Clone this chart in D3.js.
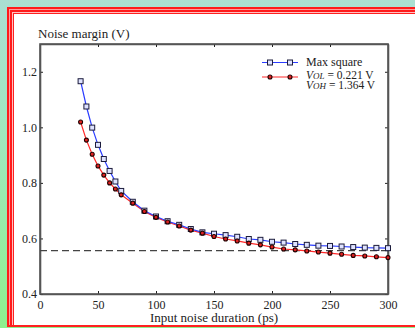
<!DOCTYPE html>
<html>
<head>
<meta charset="utf-8">
<script src="https://cdn.jsdelivr.net/npm/d3@7"></script>
<style>
  html, body { margin: 0; padding: 0; }
  body {
    width: 415px; height: 328px; overflow: hidden; position: relative;
    background: linear-gradient(to bottom, #aadfd2 0%, #9ee8bc 45%, #8ef08e 100%);
  }
  #frame {
    position: absolute; left: 7px; top: 7px; width: 520px; height: 318px;
    background: #fff;
    border-bottom: 2px solid #ff2020;
    box-shadow: inset 2px 2px 0 #ff1a1a, inset 3px 3px 0 #ff9c9c,
                inset 5px 5px 0 #ff1a1a, inset 6px 6px 0 #ffc0c0,
                inset 7px 7px 0 #ff2020;
  }
  svg { position: absolute; left: 0; top: 0; }
  text { font-family: "Liberation Serif", "Times New Roman", serif; fill: #222; }
</style>
</head>
<body>
<div id="frame"></div>
<svg id="chart" width="415" height="328"></svg>
<script>
// Input noise duration (ps)
const durations = [35, 40, 45, 50, 55, 60, 65, 70, 80, 90, 100, 110, 120, 130, 140, 150,
                   160, 170, 180, 190, 200, 210, 220, 230, 240, 250, 260, 270, 280, 290, 300];
// Noise margin (V) with the maximal square pulse
const maxSquare = [1.166, 1.075, 0.999, 0.937, 0.886, 0.843, 0.805, 0.771, 0.732, 0.700,
                   0.679, 0.662, 0.649, 0.634, 0.622, 0.617, 0.612, 0.606, 0.598, 0.595,
                   0.588, 0.585, 0.580, 0.577, 0.574, 0.573, 0.571, 0.569, 0.567, 0.566, 0.565];
// Noise margin (V) for VOL = 0.221 V / VOH = 1.364 V
const volVoh = [1.019, 0.954, 0.903, 0.861, 0.828, 0.800, 0.778, 0.757, 0.727, 0.697,
                0.676, 0.659, 0.645, 0.630, 0.619, 0.607, 0.598, 0.591, 0.583, 0.577,
                0.569, 0.562, 0.559, 0.555, 0.551, 0.547, 0.543, 0.539, 0.537, 0.534, 0.531];
// Static reference level (V)
const staticLevel = 0.556;

const xTicks = [0, 50, 100, 150, 200, 250, 300];
const yTicks = [0.4, 0.6, 0.8, 1.0, 1.2];

const plot = { left: 40, right: 388, top: 44, bottom: 294 };

const svg = d3.select("#chart");
const x = d3.scaleLinear().domain([0, 300]).range([plot.left, plot.right]);
const y = d3.scaleLinear().domain([0.4, 1.3]).range([plot.bottom, plot.top]);

const axisColor = "#555";

// Axes with inward ticks on all four sides
const gB = svg.append("g").attr("transform", `translate(0,${plot.bottom})`)
  .call(d3.axisBottom(x).tickValues(xTicks).tickSize(-3).tickSizeOuter(0).tickPadding(6).tickFormat(d3.format("d")));
const gT = svg.append("g").attr("transform", `translate(0,${plot.top})`)
  .call(d3.axisTop(x).tickValues(xTicks).tickSize(-3).tickSizeOuter(0).tickFormat(""));
const gL = svg.append("g").attr("transform", `translate(${plot.left},0)`)
  .call(d3.axisLeft(y).tickValues(yTicks).tickSize(-3).tickSizeOuter(0).tickPadding(3).tickFormat(d3.format(".1f")));
const gR = svg.append("g").attr("transform", `translate(${plot.right},0)`)
  .call(d3.axisRight(y).tickValues(yTicks).tickSize(-3).tickSizeOuter(0).tickFormat(""));

[gB, gT, gL, gR].forEach(g => {
  g.select(".domain").attr("stroke", axisColor).attr("stroke-width", 1.6);
  g.selectAll(".tick line").attr("stroke", "#222").attr("stroke-width", 1);
  g.selectAll("text").attr("font-family", "Liberation Serif, serif").attr("font-size", 12).attr("fill", "#222");
});
// Axis frame shares the full box
svg.append("rect")
  .attr("x", plot.left).attr("y", plot.top)
  .attr("width", plot.right - plot.left).attr("height", plot.bottom - plot.top)
  .attr("fill", "none").attr("stroke", axisColor).attr("stroke-width", 1.6);

// Axis titles
svg.append("text").attr("x", 38).attr("y", 38).attr("font-size", 13).text("Noise margin (V)");
svg.append("text").attr("x", (plot.left + plot.right) / 2).attr("y", 322)
  .attr("text-anchor", "middle").attr("font-size", 13).text("Input noise duration (ps)");

// Static level as a dashed reference line
svg.append("line")
  .attr("x1", x(0)).attr("x2", x(300))
  .attr("y1", y(staticLevel)).attr("y2", y(staticLevel))
  .attr("stroke", "#444").attr("stroke-width", 1.2).attr("stroke-dasharray", "7,4");

const line = d3.line().x(d => x(d[0])).y(d => y(d[1]));
const blueData = durations.map((d, i) => [d, maxSquare[i]]);
const redData = durations.map((d, i) => [d, volVoh[i]]);

svg.append("path").datum(redData).attr("d", line)
  .attr("fill", "none").attr("stroke", "#ff2a2a").attr("stroke-width", 1.2);
svg.append("path").datum(blueData).attr("d", line)
  .attr("fill", "none").attr("stroke", "#2a3cff").attr("stroke-width", 1.2);

function squares(g, data) {
  g.selectAll("rect.m").data(data).join("rect").attr("class", "m")
    .attr("x", d => x(d[0]) - 2.5).attr("y", d => y(d[1]) - 2.5)
    .attr("width", 5).attr("height", 5)
    .attr("fill", "#dfe3ff").attr("stroke", "#1c1c3c").attr("stroke-width", 1);
}
function circles(g, data) {
  g.selectAll("circle.m").data(data).join("circle").attr("class", "m")
    .attr("cx", d => x(d[0])).attr("cy", d => y(d[1])).attr("r", 2)
    .attr("fill", "#e02020").attr("stroke", "#200").attr("stroke-width", 1.1);
}
squares(svg.append("g"), blueData);
circles(svg.append("g"), redData);

// Legend
const lg = svg.append("g");
const lx0 = 262, lx1 = 298;
lg.append("line").attr("x1", lx0).attr("x2", lx1).attr("y1", 62.5).attr("y2", 62.5)
  .attr("stroke", "#2a3cff").attr("stroke-width", 1.2);
lg.append("line").attr("x1", lx0).attr("x2", lx1).attr("y1", 77).attr("y2", 77)
  .attr("stroke", "#ff2a2a").attr("stroke-width", 1.2);
[270, 290].forEach(px => {
  lg.append("rect").attr("x", px - 2.5).attr("y", 62.5 - 2.5).attr("width", 5).attr("height", 5)
    .attr("fill", "#dfe3ff").attr("stroke", "#1c1c3c").attr("stroke-width", 1);
  lg.append("circle").attr("cx", px).attr("cy", 77).attr("r", 2)
    .attr("fill", "#e02020").attr("stroke", "#200").attr("stroke-width", 1.1);
});
lg.append("text").attr("x", 306).attr("y", 66).attr("font-size", 12).text("Max square");
// Two-line label for the second series
const t = lg.append("text").attr("font-size", 11.5);
const l1 = t.append("tspan").attr("x", 306).attr("y", 78.5);
l1.append("tspan").attr("font-style", "italic").text("V");
l1.append("tspan").attr("font-style", "italic").attr("font-size", 9).text("OL");
l1.append("tspan").text(" = 0.221 V");
const l2 = t.append("tspan").attr("x", 306).attr("y", 89);
l2.append("tspan").attr("font-style", "italic").text("V");
l2.append("tspan").attr("font-style", "italic").attr("font-size", 9).text("OH");
l2.append("tspan").text(" = 1.364 V");
</script>
</body>
</html>
